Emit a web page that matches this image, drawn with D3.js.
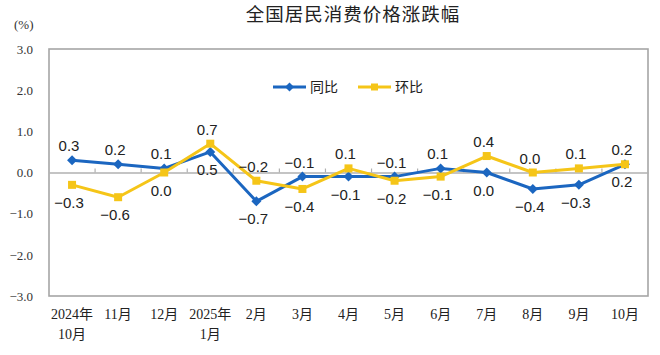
<!DOCTYPE html>
<html><head><meta charset="utf-8">
<script src="https://cdn.jsdelivr.net/npm/d3@7"></script>
<style>
body{margin:0;background:#fff;}
svg{display:block;}
</style></head>
<body><svg id="c" width="660" height="355"></svg>
<script>
const categories = ["2024年\n10月","11月","12月","2025年\n1月","2月","3月","4月","5月","6月","7月","8月","9月","10月"];
const yoy = [0.3,0.2,0.1,0.5,-0.7,-0.1,-0.1,-0.1,0.1,0.0,-0.4,-0.3,0.2];
const mom = [-0.3,-0.6,0.0,0.7,-0.2,-0.4,0.1,-0.2,-0.1,0.4,0.0,0.1,0.2];
const yoyLabelSide = [1,1,1,-1,-1,1,-1,1,1,-1,-1,-1,-1];
const momLabelSide = [-1,-1,-1,1,1,-1,1,-1,-1,1,1,1,1];
const yTicks = [3,2,1,0,-1,-2,-3];
const seriesNames = ["同比","环比"];

const svg = d3.select("#c");
const L=49,R=648,T=49,B=296;
const x = d3.scaleBand().domain(categories).range([L,R]);
const cx = c => x(c)+x.bandwidth()/2;
const y = d3.scaleLinear().domain([-3,3]).range([B,T]);
const blue="#1b66c0", yellow="#f5c518";
const sans="Liberation Sans, Arial, sans-serif";
const serif="Liberation Serif, 'Noto Sans CJK SC', serif";

// title
svg.append("text").attr("x",353).attr("y",21).attr("text-anchor","middle")
  .attr("font-family","'Noto Sans CJK SC', sans-serif").attr("font-size",18.5).attr("letter-spacing",1)
  .attr("fill","#222").text("全国居民消费价格涨跌幅");
svg.append("text").attr("x",14).attr("y",29).attr("font-family",serif).attr("font-size",13)
  .attr("fill","#333").text("(%)");

// plot border
svg.append("rect").attr("x",L).attr("y",T).attr("width",R-L).attr("height",B-T)
  .attr("fill","none").attr("stroke","#a6a6a6").attr("stroke-width",1.6);

// y axis labels
const yAxis = d3.axisLeft(y).tickValues(yTicks).tickFormat(d3.format(".1f")).tickSize(0).tickPadding(16);
const ga = svg.append("g").attr("transform",`translate(${L},0)`).call(yAxis);
ga.select(".domain").remove();
ga.selectAll("text").attr("font-family",serif).attr("font-size",13).attr("fill","#333");

// zero line with ticks
const xAxis = d3.axisTop(x).tickSize(0).tickFormat("");
const gz = svg.append("g").attr("transform",`translate(0,${y(0)})`).call(xAxis);
gz.select(".domain").attr("stroke","#b0b0b0").attr("stroke-width",1.6);
gz.selectAll(".tick").remove();
svg.append("g").selectAll("line").data(categories.slice(1)).join("line")
  .attr("x1",d=>x(d)).attr("x2",d=>x(d)).attr("y1",y(0)).attr("y2",y(0)-4)
  .attr("stroke","#b0b0b0").attr("stroke-width",1.2);

// x labels
const gx = svg.append("g");
categories.forEach(c=>{
  const parts=c.split("\n");
  const t=gx.append("text").attr("text-anchor","middle").attr("font-family",serif)
    .attr("font-size",14).attr("fill","#222");
  parts.forEach((p,i)=>t.append("tspan").attr("x",cx(c)).attr("y",319+i*20).text(p));
});

const line = d3.line().x((d,i)=>cx(categories[i])).y(d=>y(d));

function drawSeries(vals,color,marker){
  svg.append("path").datum(vals).attr("d",line).attr("fill","none")
    .attr("stroke",color).attr("stroke-width",3).attr("stroke-linejoin","round");
  const g=svg.append("g");
  vals.forEach((v,i)=>{
    const px=cx(categories[i]), py=y(v);
    if(marker==="diamond"){
      g.append("path").attr("d",`M${px},${py-5}L${px+5},${py}L${px},${py+5}L${px-5},${py}Z`).attr("fill",color);
    } else {
      g.append("rect").attr("x",px-4).attr("y",py-4).attr("width",8).attr("height",8).attr("fill",color);
    }
  });
}
drawSeries(yoy,blue,"diamond");
drawSeries(mom,yellow,"square");

function labels(vals,sides){
  svg.append("g").selectAll("text").data(vals).join("text")
    .attr("x",(d,i)=>cx(categories[i])-3)
    .attr("y",(d,i)=>y(d)+(sides[i]>0?-9:23))
    .attr("text-anchor","middle").attr("font-family",sans).attr("font-size",15).attr("fill","#222")
    .text(d=>d3.format(".1f")(d));
}
labels(yoy,yoyLabelSide);
labels(mom,momLabelSide);

// legend
const lg=svg.append("g");
[[273,blue,"diamond"],[358,yellow,"square"]].forEach(([lx,col,m],i)=>{
  lg.append("line").attr("x1",lx).attr("x2",lx+33).attr("y1",87).attr("y2",87).attr("stroke",col).attr("stroke-width",3);
  const mx=lx+16.5;
  if(m==="diamond") lg.append("path").attr("d",`M${mx},82.5L${mx+4.5},87L${mx},91.5L${mx-4.5},87Z`).attr("fill",col);
  else lg.append("rect").attr("x",mx-3.5).attr("y",83.5).attr("width",7).attr("height",7).attr("fill",col);
  lg.append("text").attr("x",lx+37).attr("y",92).attr("font-family","'Noto Sans CJK SC', sans-serif")
    .attr("font-size",14).attr("fill","#222").text(seriesNames[i]);
});
</script></body></html>
